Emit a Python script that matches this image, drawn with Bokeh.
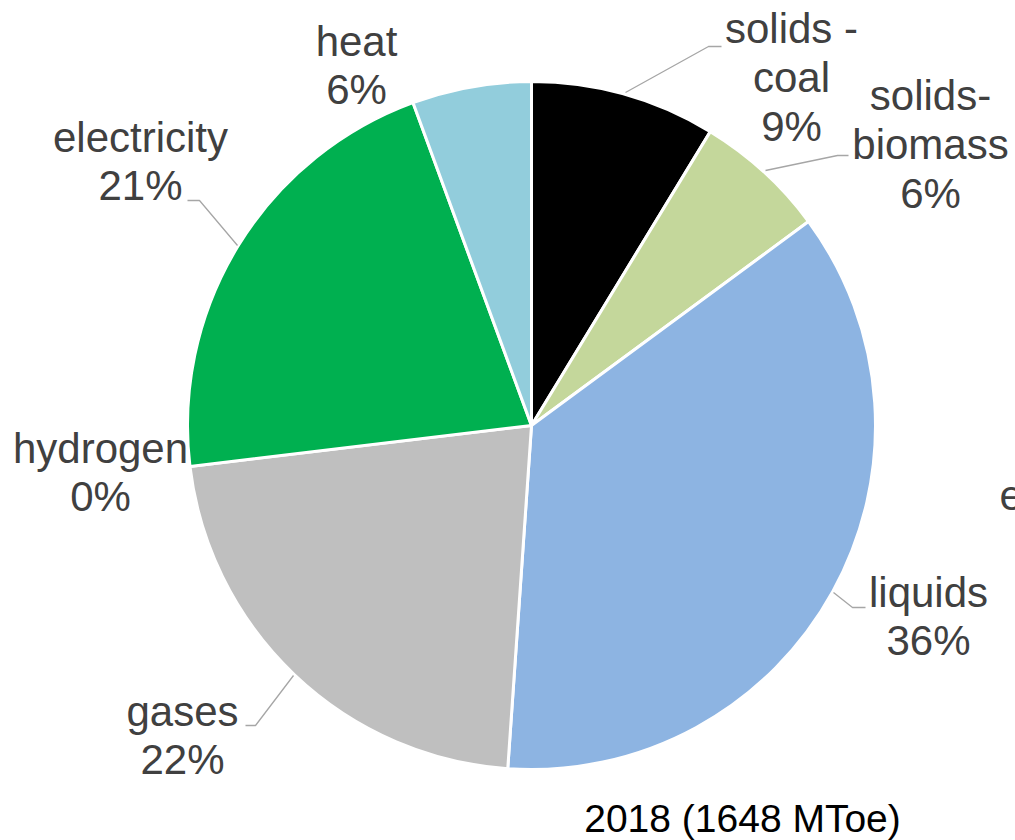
from bokeh.plotting import figure
from bokeh.models import Range1d, ColumnDataSource
from bokeh.core.properties import value
from bokeh.embed import file_html
from bokeh.resources import INLINE
import math

# ---- data ----
categories = ["solids - coal", "solids- biomass", "liquids", "gases", "hydrogen", "electricity", "heat"]
label_names = [["solids -", "coal"], ["solids-", "biomass"], ["liquids"], ["gases"], ["hydrogen"], ["electricity"], ["heat"]]
shares = [8.7, 6.2, 36.2, 22.0, 0.0, 21.3, 5.6]
colors = ["#000000", "#C4D79B", "#8DB4E2", "#BFBFBF", "#FFC000", "#00B050", "#92CDDC"]
title_text = "2018 (1648 MToe)"

# ---- layout (screen pixel positions) ----
W, H = 1015, 840
CX, CY, R = 531, 425, 344
label_pos = [(791, 77), (930, 144), (928, 616), (182, 735), (100, 472), (140, 161), (356, 65)]
leaders = [
    [(625, 92), (708, 46), (721, 46)],
    [(765, 170), (837, 155), (848, 155)],
    [(833, 592), (852, 607), (865, 607)],
    [(293, 675), (255, 725), (245, 725)],
    None,
    [(237, 245), (199, 200), (187, 200)],
    None,
]

p = figure(width=W, height=H, output_backend="svg", toolbar_location=None,
           x_range=Range1d(0, W), y_range=Range1d(-H, 0),
           min_border=0, min_border_left=0, min_border_right=0,
           min_border_top=0, min_border_bottom=0)
p.axis.visible = False
p.grid.visible = False
p.outline_line_color = None
p.background_fill_color = "white"
p.border_fill_color = "white"

total = sum(shares)
starts, ends = [], []
cum = 0.0
for s in shares:
    starts.append(math.pi / 2 - 2 * math.pi * cum / total)
    cum += s
    ends.append(math.pi / 2 - 2 * math.pi * cum / total)

vis = [i for i, s in enumerate(shares) if s > 0]
src = ColumnDataSource(dict(cat=[categories[i] for i in vis], start=[starts[i] for i in vis],
                            end=[ends[i] for i in vis], color=[colors[i] for i in vis],
                            share=[shares[i] for i in vis]))
p.wedge(x=CX, y=-CY, radius=R, start_angle="start", end_angle="end", direction="clock",
        fill_color="color", line_color="white", line_width=3, source=src)

# leader lines
xs, ys = [], []
for pts in leaders:
    if pts:
        xs.append([q[0] for q in pts])
        ys.append([-q[1] for q in pts])
p.multi_line(xs=xs, ys=ys, line_color="#A6A6A6", line_width=1.3)

texts = []
for names, s in zip(label_names, shares):
    pct = int(round(s / total * 100 + 1e-9))
    texts.append("\n".join(names + [f"{pct}%"]))
lsrc = ColumnDataSource(dict(x=[q[0] for q in label_pos], y=[-q[1] for q in label_pos], t=texts))
p.text(x="x", y="y", text="t", source=lsrc, text_align="center", text_baseline="middle",
       text_font=value("Liberation Sans"), text_font_size="42px", text_color="#404040",
       text_line_height=1.04)

p.text(x=[742], y=[-818], text=[title_text], text_align="center", text_baseline="middle",
       text_font=value("Liberation Sans"), text_font_size="39px", text_color="#000000")
p.text(x=[999], y=[-495], text=["e"], text_align="left", text_baseline="alphabetic",
       text_font=value("Liberation Sans"), text_font_size="42px", text_color="#404040")

open("out.html", "w").write(file_html(p, INLINE))
